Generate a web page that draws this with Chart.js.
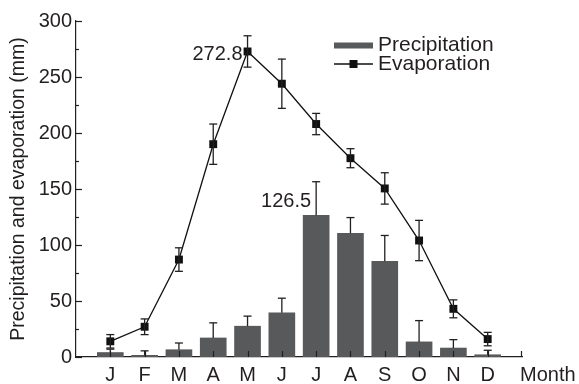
<!DOCTYPE html>
<html><head><meta charset="utf-8">
<script src="https://cdn.jsdelivr.net/npm/chart.js@4"></script>
<style>html,body{margin:0;padding:0;background:#fff}#wrap{width:579px;height:384px;position:relative}</style>
</head><body><div id="wrap"><canvas id="c" width="579" height="384" style="width:579px;height:384px"></canvas></div>
<script>
const months = ['J','F','M','A','M','J','J','A','S','O','N','D'];
const precipitation = [4, 1.5, 6.5, 17, 27.5, 39.5, 126.5, 110.5, 85.5, 13.5, 8, 2];
const precipitationErr = [3, 4, 6, 13.5, 9, 13, 30, 14, 23, 19, 7.5, 4];
const evaporation = [14, 27, 87, 190, 272.8, 244, 208, 177.5, 150.5, 104, 43, 16];
const evaporationErr = [6, 7, 10.5, 18, 14, 22, 9.5, 8.5, 14, 18, 8, 6];
const yTicks = [0, 50, 100, 150, 200, 250, 300];
const seriesNames = ['Precipitation', 'Evaporation'];
const xTitle = 'Month';
const yTitle = 'Precipitation and evaporation (mm)';

const INK = '#231f20';
const BAR = '#58595b';
const FONT = "'Liberation Sans', Arial, Helvetica, sans-serif";
const FS = 20;

function seg(ctx, x0, y0, x1, y1){ ctx.beginPath(); ctx.moveTo(x0,y0); ctx.lineTo(x1,y1); ctx.stroke(); }

const extras = {
  id: 'extras',
  afterDatasetsDraw(chart){
    const ctx = chart.ctx, xs = chart.scales.x, ys = chart.scales.y;
    ctx.save();
    ctx.strokeStyle = INK; ctx.lineWidth = 1.3;
    precipitation.forEach((v,i)=>{
      const x = xs.getPixelForValue(i+1);
      const y0 = ys.getPixelForValue(v), y1 = ys.getPixelForValue(v + precipitationErr[i]);
      seg(ctx, x, y0, x, y1); seg(ctx, x-4, y1, x+4, y1);
    });
    evaporation.forEach((v,i)=>{
      const x = xs.getPixelForValue(i+1);
      const y0 = ys.getPixelForValue(v - evaporationErr[i]), y1 = ys.getPixelForValue(v + evaporationErr[i]);
      seg(ctx, x, y0, x, y1); seg(ctx, x-4, y1, x+4, y1); seg(ctx, x-4, y0, x+4, y0);
    });
    ctx.restore();
  },
  afterDraw(chart){
    const ctx = chart.ctx, xs = chart.scales.x, ys = chart.scales.y, a = chart.chartArea;
    ctx.save();
    ctx.strokeStyle = INK; ctx.lineWidth = 1.2;
    months.forEach((m,i)=>{ const x = Math.round(xs.getPixelForValue(i+1))+0.5; seg(ctx, x, a.bottom, x, a.bottom-6); });
    seg(ctx, a.right-0.5, a.bottom, a.right-0.5, a.bottom-6);
    for (let v = 0; v <= 300; v += 25){
      const y = Math.round(ys.getPixelForValue(v))+0.5;
      seg(ctx, a.left, y, a.left + (v % 50 === 0 ? 6 : 3), y);
    }
    ctx.fillStyle = INK;
    ctx.font = FS + 'px ' + FONT;
    ctx.textAlign = 'left'; ctx.textBaseline = 'middle';
    ctx.fillText(xTitle, a.right - 2, a.bottom + 18);
    const ie = evaporation.indexOf(Math.max(...evaporation));
    ctx.textAlign = 'right';
    ctx.fillText(evaporation[ie].toFixed(1), xs.getPixelForValue(ie+1) - 5, ys.getPixelForValue(evaporation[ie]) + 3);
    const ip = precipitation.indexOf(Math.max(...precipitation));
    ctx.fillText(precipitation[ip].toFixed(1), xs.getPixelForValue(ip+1) - 5, ys.getPixelForValue(precipitation[ip]) - 14);
    const lx = 334, ly1 = 45.5, ly2 = 64;
    ctx.fillStyle = BAR; ctx.fillRect(lx, ly1-3, 39, 6);
    ctx.strokeStyle = '#111'; ctx.lineWidth = 1.3;
    seg(ctx, lx, ly2, lx+39, ly2);
    ctx.fillStyle = '#111'; ctx.fillRect(lx+15.5, ly2-4, 8, 8);
    ctx.fillStyle = INK; ctx.textAlign = 'left';
    ctx.font = '21px ' + FONT;
    ctx.fillText(seriesNames[0], 378, ly1);
    ctx.fillText(seriesNames[1], 378, ly2);
    ctx.restore();
  }
};

new Chart(document.getElementById('c'), {
  type: 'bar',
  data: {
    datasets: [
      { type: 'line', label: seriesNames[1], order: 0,
        data: evaporation.map((v,i)=>({x:i+1, y:v})),
        borderColor: '#111', borderWidth: 1.3, tension: 0,
        pointStyle: 'rect', pointRadius: 5.6, pointBackgroundColor: '#111', pointBorderWidth: 0 },
      { type: 'bar', label: seriesNames[0], order: 1,
        data: precipitation.map((v,i)=>({x:i+1, y:v})),
        backgroundColor: BAR, barThickness: 26 }
    ]
  },
  options: {
    responsive: false, maintainAspectRatio: false, animation: false, devicePixelRatio: 1,
    layout: { padding: { top: 21, right: 57, left: 0, bottom: 0 } },
    plugins: { legend: { display: false }, tooltip: { enabled: false } },
    scales: {
      x: { type: 'linear', min: 0, max: 13, offset: false,
        grid: { display: false, drawTicks: false, offset: false },
        border: { display: true, color: INK, width: 1.2 },
        afterBuildTicks(s){ s.ticks = months.map((m,i)=>({value:i+1})); },
        afterFit(s){ s.height = 27; },
        ticks: { color: INK, font: { family: FONT, size: FS }, padding: 6, maxRotation: 0, autoSkip: false,
          callback: (v)=> months[v-1] ?? '' } },
      y: { min: 0, max: 300,
        grid: { display: false, drawTicks: false },
        border: { display: true, color: INK, width: 1.2 },
        afterBuildTicks(s){ s.ticks = yTicks.map(v=>({value:v})); },
        afterFit(s){ s.width = 76; },
        title: { display: true, text: yTitle, color: INK, font: { family: FONT, size: 19.5 }, padding: { top: 7, bottom: 0 } },
        ticks: { color: INK, font: { family: FONT, size: FS }, padding: 4 } }
    }
  },
  plugins: [extras]
});
</script></body></html>
